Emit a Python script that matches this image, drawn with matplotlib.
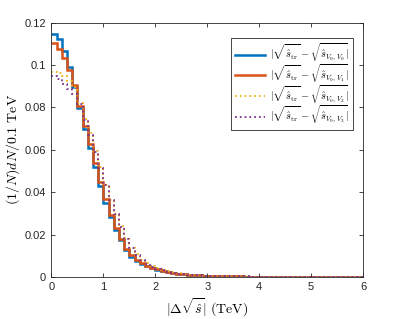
# Ploting packages
import matplotlib
matplotlib.use('Agg')
import matplotlib.pyplot as plt
import numpy as np

# Fonts: Arial-like for ticks, computer modern for the math labels
plt.rcParams['font.family'] = ['Liberation Sans', 'DejaVu Sans']
plt.rcParams['mathtext.fontset'] = 'cm'

# Histogram data, 0.1 TeV bins from 0 to 6 TeV
x_min, x_max, n_bins = 0, 6, 60

v0v0 = [0.1148, 0.1121, 0.1066, 0.0990, 0.0895, 0.0797, 0.0700, 0.0610, 0.0521, 0.0427,
        0.0351, 0.0282, 0.0222, 0.0172, 0.0126, 0.0096, 0.0077, 0.0062, 0.0050, 0.0040,
        0.0033, 0.0027, 0.0022, 0.0018, 0.0015, 0.0012, 0.0010, 0.0008, 0.0007, 0.0006,
        0.0005, 0.0004, 0.0003, 0.0003, 0.0002, 0.0002, 0.0002, 0.0001, 0.0001, 0.0001,
        0.0001, 0.0001, 0.0001, 0.0001, 0.0000, 0.0000, 0.0000, 0.0000, 0.0000, 0.0000,
        0.0000, 0.0000, 0.0000, 0.0000, 0.0000, 0.0000, 0.0000, 0.0000, 0.0000, 0.0000]

v0v1 = [0.1102, 0.1077, 0.1034, 0.0975, 0.0907, 0.0805, 0.0712, 0.0625, 0.0537, 0.0450,
        0.0367, 0.0290, 0.0230, 0.0178, 0.0134, 0.0102, 0.0080, 0.0064, 0.0052, 0.0042,
        0.0035, 0.0028, 0.0023, 0.0019, 0.0016, 0.0013, 0.0011, 0.0009, 0.0007, 0.0006,
        0.0005, 0.0004, 0.0004, 0.0003, 0.0003, 0.0002, 0.0002, 0.0001, 0.0001, 0.0001,
        0.0001, 0.0001, 0.0001, 0.0001, 0.0000, 0.0000, 0.0000, 0.0000, 0.0000, 0.0000,
        0.0000, 0.0000, 0.0000, 0.0000, 0.0000, 0.0000, 0.0000, 0.0000, 0.0000, 0.0000]

v0v2 = [0.0965, 0.0962, 0.0948, 0.0925, 0.0895, 0.0820, 0.0745, 0.0680, 0.0595, 0.0520,
        0.0435, 0.0365, 0.0298, 0.0238, 0.0183, 0.0138, 0.0106, 0.0082, 0.0064, 0.0050,
        0.0040, 0.0032, 0.0026, 0.0021, 0.0017, 0.0014, 0.0011, 0.0009, 0.0008, 0.0006,
        0.0005, 0.0004, 0.0004, 0.0003, 0.0003, 0.0002, 0.0002, 0.0002, 0.0001, 0.0001,
        0.0001, 0.0001, 0.0001, 0.0001, 0.0001, 0.0000, 0.0000, 0.0000, 0.0000, 0.0000,
        0.0000, 0.0000, 0.0000, 0.0000, 0.0000, 0.0000, 0.0000, 0.0000, 0.0000, 0.0000]

v0v3 = [0.0948, 0.0934, 0.0910, 0.0885, 0.0864, 0.0815, 0.0740, 0.0672, 0.0590, 0.0515,
        0.0432, 0.0362, 0.0296, 0.0236, 0.0181, 0.0136, 0.0104, 0.0081, 0.0063, 0.0049,
        0.0039, 0.0031, 0.0025, 0.0020, 0.0016, 0.0013, 0.0011, 0.0009, 0.0007, 0.0006,
        0.0005, 0.0004, 0.0004, 0.0003, 0.0003, 0.0002, 0.0002, 0.0002, 0.0001, 0.0001,
        0.0001, 0.0001, 0.0001, 0.0001, 0.0001, 0.0000, 0.0000, 0.0000, 0.0000, 0.0000,
        0.0000, 0.0000, 0.0000, 0.0000, 0.0000, 0.0000, 0.0000, 0.0000, 0.0000, 0.0000]

labels = [r'$|\sqrt{\hat{s}_{\rm tr}}-\sqrt{\hat{s}_{V_0,V_0}}|$',
          r'$|\sqrt{\hat{s}_{\rm tr}}-\sqrt{\hat{s}_{V_0,V_1}}|$',
          r'$|\sqrt{\hat{s}_{\rm tr}}-\sqrt{\hat{s}_{V_0,V_2}}|$',
          r'$|\sqrt{\hat{s}_{\rm tr}}-\sqrt{\hat{s}_{V_0,V_3}}|$']

x_ticks = [0, 1, 2, 3, 4, 5, 6]
y_ticks = [0, 0.02, 0.04, 0.06, 0.08, 0.1, 0.12]
y_ticklabels = ['0', '0.02', '0.04', '0.06', '0.08', '0.1', '0.12']

# MATLAB default colour order
colors = ['#0072BD', '#D95319', '#EDB120', '#7E2F8E']
styles = ['-', '-', ':', ':']
widths = [1.8, 1.8, 1.3, 1.3]

edges = np.linspace(x_min, x_max, n_bins + 1)

fig = plt.figure(figsize=(3.99, 3.19), dpi=100)
ax = fig.add_axes([0.129, 0.132, 0.781, 0.797])

for series, lab, c, ls, lw in zip([v0v0, v0v1, v0v2, v0v3], labels, colors, styles, widths):
    ax.stairs(series, edges, baseline=None, color=c, linestyle=ls, linewidth=lw, label=lab)

ax.set_xlim(x_min, x_max)
ax.set_ylim(0, 0.12)
ax.set_xticks(x_ticks)
ax.set_yticks(y_ticks)
ax.set_yticklabels(y_ticklabels)

# MATLAB looking box and ticks
for s in ax.spines.values():
    s.set_color('#262626')
    s.set_linewidth(0.6)
ax.tick_params(direction='in', top=True, right=True, length=3, width=0.6,
               colors='#262626', labelsize=8, pad=4)

ax.set_xlabel(r'$|\Delta\sqrt{\hat{s}}|\ (\mathrm{TeV})$', fontsize=10, labelpad=3)
ax.set_ylabel(r'$(1/N)dN/0.1\ \mathrm{TeV}$', fontsize=10, labelpad=2)

# Compact legend, rows close together like the MATLAB one
leg = ax.legend(loc='upper right', bbox_to_anchor=(0.967, 0.939), borderaxespad=0,
                fontsize=7.5, fancybox=False, framealpha=1, handlelength=2.9,
                handletextpad=0.5, labelspacing=-0.2, borderpad=0.35)
leg.get_frame().set_edgecolor('#262626')
leg.get_frame().set_linewidth(0.6)

fig.savefig('out.png', dpi=100)
